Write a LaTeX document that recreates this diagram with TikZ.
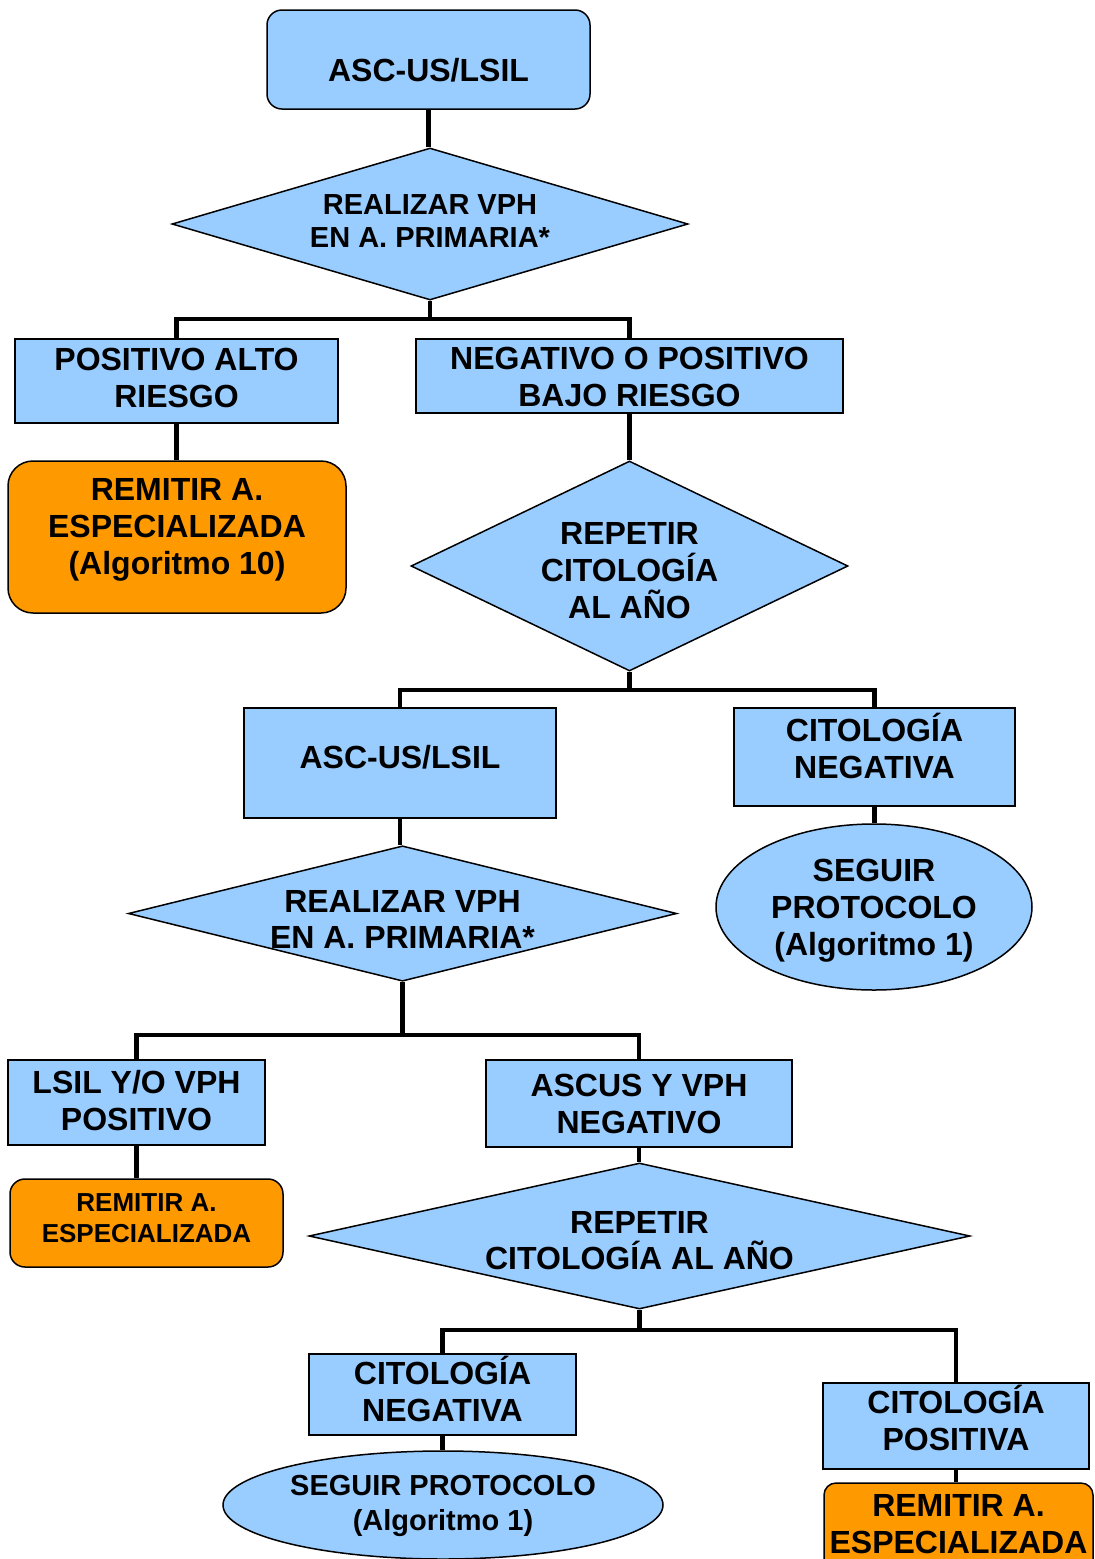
\documentclass[tikz,border=0pt]{standalone}
\usepackage{fontspec}
\setmainfont{Liberation Sans}
\usetikzlibrary{shapes.geometric}

\definecolor{azulcaja}{HTML}{99CCFF}
\definecolor{naranjacaja}{HTML}{FF9900}

\begin{document}
\begin{tikzpicture}[x=1pt, y=-1pt,
    base/.style={draw, line width=1.5pt, inner sep=0pt, align=center,
      font=\fontsize{32}{37}\selectfont\bfseries},
    caja/.style={base, rectangle, fill=azulcaja},
    remitir/.style={base, rectangle, rounded corners=#1, fill=naranjacaja},
    pregunta/.style={base, diamond, fill=azulcaja},
    protocolo/.style={base, ellipse, fill=azulcaja},
    tam/.style 2 args={minimum width=#1, minimum height=#2},
    txt/.style 2 args={text height=#1, text depth=#2},
    enlace/.style={line width=4.5pt}]
        \useasboundingbox (0,0) rectangle (1095,1559);
        \clip (0,0) rectangle (1095,1559);

        % primer nivel
        \node [caja, rounded corners=15pt, tam={323pt}{99pt}, txt={44pt}{0pt}]
          (inicio) at (428.5,59.5) {ASC-US/LSIL};
        \node [pregunta, shape aspect=3.4, tam={516pt}{152pt}, txt={53.8pt}{7pt},
          font=\fontsize{29}{33}\selectfont\bfseries]
          (vph1) at (430,224) {REALIZAR VPH\\EN A. PRIMARIA*};
        \node [caja, tam={323pt}{84pt}, txt={60pt}{7pt}]
          (altor) at (176.5,381) {POSITIVO ALTO\\RIESGO};
        \node [caja, tam={427pt}{74pt}, txt={60pt}{0pt}]
          (bajor) at (629.5,376) {NEGATIVO O POSITIVO\\BAJO RIESGO};
        \node [remitir=25pt, tam={338pt}{152pt}, txt={97pt}{23pt}]
          (remi1) at (177,537) {REMITIR A.\\ESPECIALIZADA\\(Algoritmo 10)};
        \node [pregunta, shape aspect=2.08, tam={437pt}{210pt}, txt={104pt}{0pt}]
          (repe1) at (629.5,566) {REPETIR\\CITOLOGÍA\\AL AÑO};

        % segundo nivel
        \node [caja, tam={312pt}{110pt}, txt={23pt}{12pt}]
          (ascus2) at (400,763) {ASC-US/LSIL};
        \node [caja, tam={281pt}{98pt}, txt={60pt}{18pt}]
          (neg1) at (874.5,757) {CITOLOGÍA\\NEGATIVA};
        \node [protocolo, tam={316pt}{166pt}, txt={97pt}{0pt}]
          (prot1) at (874,907) {SEGUIR\\PROTOCOLO\\(Algoritmo 1)};
        \node [pregunta, shape aspect=4.05, tam={547pt}{135pt}, txt={70pt}{0pt},
          font=\fontsize{32}{36}\selectfont\bfseries]
          (vph2) at (402.5,913.5) {REALIZAR VPH\\EN A. PRIMARIA*};
        \node [caja, tam={257pt}{85pt}, txt={60pt}{5pt}]
          (lsilpos) at (136.5,1102.5) {LSIL Y/O VPH\\POSITIVO};
        \node [caja, tam={306pt}{87pt}, txt={60pt}{0pt}]
          (ascneg) at (639,1103.5) {ASCUS Y VPH\\NEGATIVO};
        \node [remitir=15pt, tam={273pt}{88pt}, txt={49.7pt}{11pt},
          font=\fontsize{26}{31}\selectfont\bfseries]
          (remi2) at (146.5,1223) {REMITIR A.\\ESPECIALIZADA};
        \node [pregunta, shape aspect=4.53, tam={661pt}{146pt}, txt={67pt}{0pt},
          font=\fontsize{32}{36}\selectfont\bfseries]
          (repe2) at (639.5,1236) {REPETIR\\CITOLOGÍA AL AÑO};

        % tercer nivel
        \node [caja, tam={267pt}{81pt}, txt={60pt}{6pt}]
          (neg2) at (442.5,1394.5) {CITOLOGÍA\\NEGATIVA};
        \node [caja, tam={266pt}{86pt}, txt={60pt}{12pt}]
          (pos2) at (956,1426) {CITOLOGÍA\\POSITIVA};
        \node [protocolo, tam={440pt}{108pt}, txt={55.8pt}{5pt},
          font=\fontsize{29}{35}\selectfont\bfseries]
          (prot2) at (443,1505) {SEGUIR PROTOCOLO\\(Algoritmo 1)};
        \node [remitir=12pt, tam={269pt}{90pt}, txt={60pt}{9pt}]
          (remi3) at (958.5,1528) {REMITIR A.\\ESPECIALIZADA};

        % conexiones
        \coordinate (c1) at (430,319);
        \coordinate (c2) at (629.5,690);
        \coordinate (c3) at (402.5,1035);
        \coordinate (c4) at (639.5,1330);
        \draw [enlace] (inicio.south) -- (inicio.south |- vph1.north);
        \draw [enlace] (vph1.south) -- (c1) -| (altor.north);
        \draw [enlace] (c1) -| (bajor.north);
        \draw [enlace] (altor.south) -- (altor.south |- remi1.north);
        \draw [enlace] (bajor.south) -- (bajor.south |- repe1.north);
        \draw [enlace] (repe1.south) -- (c2) -| (ascus2.north);
        \draw [enlace] (c2) -| (neg1.north);
        \draw [enlace] (neg1.south) -- (neg1.south |- prot1.north);
        \draw [enlace] (ascus2.south) -- (ascus2.south |- vph2.north);
        \draw [enlace] (vph2.south) -- (c3) -| (lsilpos.north);
        \draw [enlace] (c3) -| (ascneg.north);
        \draw [enlace] (lsilpos.south) -- (lsilpos.south |- remi2.north);
        \draw [enlace] (ascneg.south) -- (ascneg.south |- repe2.north);
        \draw [enlace] (repe2.south) -- (c4) -| (neg2.north);
        \draw [enlace] (c4) -| (pos2.north);
        \draw [enlace] (neg2.south) -- (neg2.south |- prot2.north);
        \draw [enlace] (pos2.south) -- (pos2.south |- remi3.north);

\end{tikzpicture}
\end{document}
